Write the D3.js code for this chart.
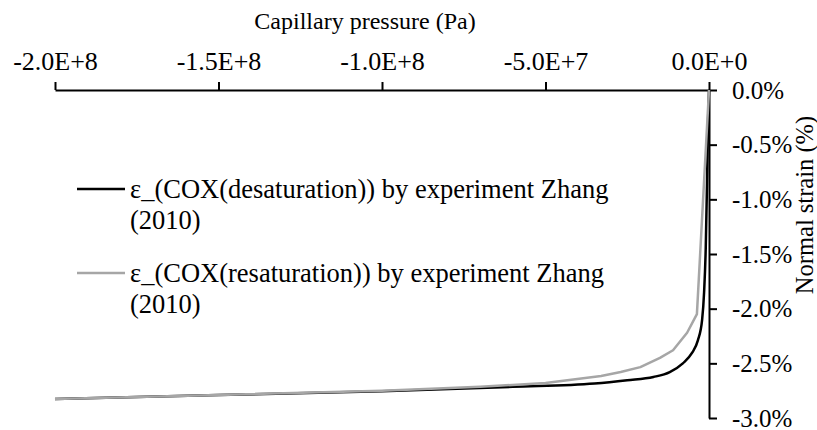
<!DOCTYPE html>
<html>
<head>
<meta charset="utf-8">
<script src="https://cdn.jsdelivr.net/npm/d3@7"></script>
<style>
  html, body { margin: 0; padding: 0; background: #fff; }
  svg { display: block; }
</style>
</head>
<body>
<svg id="chart" width="817" height="430"></svg>
<script>
// Capillary pressure (Pa) and normal strain (%) for the two COX curves
const desatPressure = [-2.0e8, -1.5e8, -1.0e8, -6.0e7, -3.5e7, -2.5e7, -1.7e7, -1.2e7, -8.0e6, -5.2e6, -3.4e6, -2.1e6, -1.5e6, -1.0e6, -6.0e5, -3.0e5, 0];
const desatStrain   = [-2.826, -2.79, -2.755, -2.715, -2.685, -2.655, -2.625, -2.58, -2.50, -2.405, -2.29, -2.10, -1.85, -1.45, -0.85, -0.30, 0];

const resatPressure = [-2.0e8, -1.5e8, -1.0e8, -7.0e7, -5.0e7, -3.3e7, -2.7e7, -2.1e7, -1.5e7, -1.1e7, -6.7e6, -3.7e6, 0];
const resatStrain   = [-2.826, -2.79, -2.75, -2.715, -2.68, -2.615, -2.58, -2.535, -2.45, -2.38, -2.22, -2.05, 0];

const xTickValues = [-2.0e8, -1.5e8, -1.0e8, -5.0e7, 0];
const yTickValues = [0, -0.5, -1.0, -1.5, -2.0, -2.5, -3.0];

const seriesNames = [
  ["ε_(COX(desaturation)) by experiment Zhang", "(2010)"],
  ["ε_(COX(resaturation)) by experiment Zhang", "(2010)"]
];
const seriesColors = ["#000000", "#a6a6a6"];

const xTitle = "Capillary pressure (Pa)";
const yTitle = "Normal strain (%)";

const FONT = "'Liberation Serif', Tinos, 'Times New Roman', serif";

const svg = d3.select("#chart");

const x = d3.scaleLinear().domain([-2.0e8, 0]).range([55, 709]);
const y = d3.scaleLinear().domain([0, -3.0]).range([90, 418]);

// scientific label like -2.0E+8
function sci(v) {
  if (v === 0) return "0.0E+0";
  const e = Math.floor(Math.log10(Math.abs(v)));
  const m = v / Math.pow(10, e);
  return m.toFixed(1) + "E+" + e;
}

// top x axis
const xAxis = svg.append("g")
  .attr("transform", `translate(0,${y(0)})`)
  .call(d3.axisTop(x).tickValues(xTickValues).tickFormat(sci)
        .tickSize(8).tickSizeOuter(0).tickPadding(12));
xAxis.attr("font-family", FONT).attr("font-size", 26);

// right y axis at zero pressure
const yAxis = svg.append("g")
  .attr("transform", `translate(${x(0)},0)`)
  .call(d3.axisRight(y).tickValues(yTickValues).tickFormat(d => d.toFixed(1) + "%")
        .tickSize(8).tickSizeOuter(0).tickPadding(15));
yAxis.attr("font-family", FONT).attr("font-size", 25);

svg.selectAll(".domain, .tick line").attr("stroke", "#000").attr("stroke-width", 2);
svg.selectAll(".tick text").attr("fill", "#000");

// axis titles
svg.append("text")
  .attr("x", 365).attr("y", 29)
  .attr("text-anchor", "middle")
  .attr("font-family", FONT).attr("font-size", 24)
  .text(xTitle);

svg.append("text")
  .attr("transform", "rotate(-90)")
  .attr("x", -205).attr("y", 813)
  .attr("text-anchor", "middle")
  .attr("font-family", FONT).attr("font-size", 24.5)
  .text(yTitle);

// curves
const desat = desatPressure.map((p, i) => [p, desatStrain[i]]);
const resat = resatPressure.map((p, i) => [p, resatStrain[i]]);

svg.append("path").datum(desat)
  .attr("fill", "none").attr("stroke", seriesColors[0]).attr("stroke-width", 2.5)
  .attr("stroke-linejoin", "round")
  .attr("d", d3.line().x(d => x(d[0])).y(d => y(d[1])).curve(d3.curveMonotoneX));

svg.append("path").datum(resat)
  .attr("fill", "none").attr("stroke", seriesColors[1]).attr("stroke-width", 2.5)
  .attr("stroke-linejoin", "round")
  .attr("d", d3.line().x(d => x(d[0])).y(d => y(d[1])).curve(d3.curveLinear));

// legend
const legendTop = [189, 273];
seriesNames.forEach((lines, i) => {
  const g = svg.append("g");
  g.append("line")
    .attr("x1", 77).attr("x2", 125)
    .attr("y1", legendTop[i]).attr("y2", legendTop[i])
    .attr("stroke", seriesColors[i]).attr("stroke-width", 2.5);
  const t = g.append("text")
    .attr("x", 130).attr("y", legendTop[i] + 9)
    .attr("font-family", FONT).attr("font-size", 26.5);
  lines.forEach((s, j) => {
    t.append("tspan").attr("x", 130).attr("dy", j === 0 ? 0 : 31).text(s);
  });
});
</script>
</body>
</html>
